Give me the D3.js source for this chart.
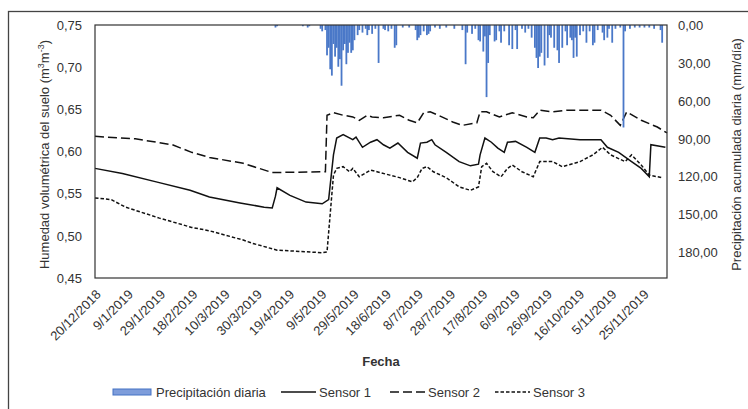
<!DOCTYPE html>
<html>
<head>
<meta charset="utf-8">
<script src="https://cdn.jsdelivr.net/npm/d3@7"></script>
<style>
  body { margin: 0; background: #fff; }
  svg { font-family: "Liberation Sans", Arial, sans-serif; }
  .tick text { fill: #333; font-size: 13px; }
</style>
</head>
<body>
<svg id="vis" width="748" height="409"></svg>
<script>
const width = 748;
const height = 409;
const margin = { top: 25, right: 81, bottom: 131, left: 95 };

// x axis tick labels (every 20 days)
const dateTicks = ["2018-12-20", "2019-01-09", "2019-01-29", "2019-02-18", "2019-03-10",
  "2019-03-30", "2019-04-19", "2019-05-09", "2019-05-29", "2019-06-18", "2019-07-08",
  "2019-07-28", "2019-08-17", "2019-09-06", "2019-09-26", "2019-10-16", "2019-11-05",
  "2019-11-25"];
const leftTicks = [0.45, 0.50, 0.55, 0.60, 0.65, 0.70, 0.75];
const rightTicks = [0, 30, 60, 90, 120, 150, 180];

// soil moisture (m3/m3)
const sensor1 = [
  ["2018-12-20", 0.580], ["2019-01-06", 0.574], ["2019-01-27", 0.564], ["2019-02-17", 0.554],
  ["2019-03-01", 0.546], ["2019-03-20", 0.539], ["2019-04-04", 0.534], ["2019-04-09", 0.533],
  ["2019-04-11", 0.547], ["2019-04-12", 0.557], ["2019-04-20", 0.548], ["2019-04-30", 0.540],
  ["2019-05-10", 0.538], ["2019-05-14", 0.543], ["2019-05-17", 0.596], ["2019-05-19", 0.616],
  ["2019-05-23", 0.620], ["2019-05-29", 0.614], ["2019-05-31", 0.617], ["2019-06-04", 0.605],
  ["2019-06-09", 0.611], ["2019-06-13", 0.614], ["2019-06-17", 0.608], ["2019-06-21", 0.604],
  ["2019-06-26", 0.610], ["2019-07-02", 0.599], ["2019-07-08", 0.592], ["2019-07-10", 0.610],
  ["2019-07-14", 0.611], ["2019-07-17", 0.614], ["2019-07-19", 0.608], ["2019-07-26", 0.599],
  ["2019-08-03", 0.588], ["2019-08-10", 0.583], ["2019-08-15", 0.585], ["2019-08-16", 0.596],
  ["2019-08-19", 0.616], ["2019-08-23", 0.611], ["2019-08-27", 0.604], ["2019-08-31", 0.599],
  ["2019-09-02", 0.611], ["2019-09-07", 0.612], ["2019-09-14", 0.605], ["2019-09-19", 0.599],
  ["2019-09-22", 0.616], ["2019-09-26", 0.616], ["2019-09-30", 0.614], ["2019-10-04", 0.616],
  ["2019-10-17", 0.614], ["2019-10-30", 0.614], ["2019-11-03", 0.605], ["2019-11-10", 0.599],
  ["2019-11-18", 0.588], ["2019-11-24", 0.580], ["2019-11-29", 0.570], ["2019-11-30", 0.608],
  ["2019-12-09", 0.605]
];
const sensor2 = [
  ["2018-12-20", 0.618], ["2019-01-14", 0.615], ["2019-02-06", 0.608], ["2019-02-18", 0.599],
  ["2019-03-01", 0.593], ["2019-03-22", 0.586], ["2019-04-09", 0.575], ["2019-05-10", 0.576],
  ["2019-05-12", 0.576], ["2019-05-13", 0.643], ["2019-05-17", 0.646], ["2019-05-23", 0.643],
  ["2019-05-29", 0.641], ["2019-06-02", 0.637], ["2019-06-07", 0.643], ["2019-06-10", 0.641],
  ["2019-06-17", 0.640], ["2019-06-27", 0.643], ["2019-07-03", 0.637], ["2019-07-08", 0.634],
  ["2019-07-12", 0.646], ["2019-07-16", 0.647], ["2019-07-21", 0.643], ["2019-07-30", 0.635],
  ["2019-08-05", 0.631], ["2019-08-14", 0.634], ["2019-08-16", 0.647], ["2019-08-20", 0.647],
  ["2019-08-28", 0.641], ["2019-09-05", 0.646], ["2019-09-14", 0.641], ["2019-09-18", 0.640],
  ["2019-09-22", 0.649], ["2019-09-30", 0.647], ["2019-10-09", 0.649], ["2019-10-30", 0.649],
  ["2019-11-05", 0.643], ["2019-11-11", 0.631], ["2019-11-15", 0.647], ["2019-11-24", 0.637],
  ["2019-12-04", 0.629], ["2019-12-10", 0.622]
];
const sensor3 = [
  ["2018-12-20", 0.545], ["2018-12-30", 0.543], ["2019-01-08", 0.534], ["2019-01-29", 0.521],
  ["2019-02-18", 0.510], ["2019-03-01", 0.506], ["2019-03-22", 0.495], ["2019-03-28", 0.491],
  ["2019-04-12", 0.483], ["2019-05-10", 0.480], ["2019-05-13", 0.481], ["2019-05-17", 0.572],
  ["2019-05-19", 0.580], ["2019-05-23", 0.582], ["2019-05-27", 0.576], ["2019-05-29", 0.580],
  ["2019-06-02", 0.570], ["2019-06-09", 0.578], ["2019-06-13", 0.576], ["2019-06-21", 0.572],
  ["2019-06-27", 0.569], ["2019-07-05", 0.564], ["2019-07-08", 0.569], ["2019-07-11", 0.580],
  ["2019-07-14", 0.582], ["2019-07-18", 0.576], ["2019-07-26", 0.569], ["2019-08-03", 0.558],
  ["2019-08-10", 0.554], ["2019-08-15", 0.558], ["2019-08-17", 0.582], ["2019-08-20", 0.586],
  ["2019-08-24", 0.576], ["2019-08-29", 0.570], ["2019-09-02", 0.580], ["2019-09-05", 0.584],
  ["2019-09-11", 0.576], ["2019-09-18", 0.570], ["2019-09-22", 0.588], ["2019-09-30", 0.588],
  ["2019-10-06", 0.582], ["2019-10-17", 0.588], ["2019-10-25", 0.596], ["2019-10-31", 0.605],
  ["2019-11-05", 0.596], ["2019-11-14", 0.588], ["2019-11-18", 0.596], ["2019-11-24", 0.584],
  ["2019-11-29", 0.572], ["2019-12-07", 0.569]
];

// daily rainfall (mm/dia), only rainy days listed
const rain = [
  ["2019-04-11", 2], ["2019-04-12", 1], ["2019-04-28", 1], ["2019-05-01", 2], ["2019-05-02", 1],
  ["2019-05-09", 3], ["2019-05-10", 5], ["2019-05-12", 4], ["2019-05-13", 24], ["2019-05-14", 18],
  ["2019-05-15", 35], ["2019-05-16", 40], ["2019-05-17", 15], ["2019-05-18", 25], ["2019-05-19", 18],
  ["2019-05-20", 33], ["2019-05-21", 27], ["2019-05-22", 48], ["2019-05-23", 20], ["2019-05-24", 15],
  ["2019-05-25", 31], ["2019-05-26", 22], ["2019-05-27", 14], ["2019-05-28", 22], ["2019-05-29", 20],
  ["2019-05-30", 12], ["2019-06-01", 8], ["2019-06-02", 4], ["2019-06-04", 6], ["2019-06-06", 3],
  ["2019-06-07", 8], ["2019-06-08", 4], ["2019-06-10", 7], ["2019-06-12", 3], ["2019-06-14", 30],
  ["2019-06-17", 3], ["2019-06-18", 4], ["2019-06-20", 5], ["2019-06-22", 3], ["2019-06-24", 18],
  ["2019-06-25", 16], ["2019-06-29", 2], ["2019-07-03", 2], ["2019-07-07", 4], ["2019-07-08", 12],
  ["2019-07-09", 10], ["2019-07-10", 8], ["2019-07-12", 5], ["2019-07-14", 8], ["2019-07-15", 7],
  ["2019-07-16", 5], ["2019-07-19", 2], ["2019-07-22", 3], ["2019-07-26", 2], ["2019-07-31", 3],
  ["2019-08-05", 4], ["2019-08-07", 31], ["2019-08-08", 6], ["2019-08-11", 7], ["2019-08-13", 3],
  ["2019-08-15", 12], ["2019-08-16", 13], ["2019-08-18", 21], ["2019-08-19", 9], ["2019-08-20", 57],
  ["2019-08-21", 30], ["2019-08-22", 8], ["2019-08-25", 13], ["2019-08-26", 12], ["2019-08-28", 5],
  ["2019-08-29", 14], ["2019-08-31", 5], ["2019-09-03", 16], ["2019-09-05", 19], ["2019-09-07", 4],
  ["2019-09-08", 19], ["2019-09-11", 3], ["2019-09-13", 6], ["2019-09-15", 3], ["2019-09-17", 10],
  ["2019-09-19", 18], ["2019-09-20", 26], ["2019-09-21", 34], ["2019-09-22", 25], ["2019-09-23", 22],
  ["2019-09-25", 32], ["2019-09-27", 26], ["2019-09-28", 8], ["2019-09-29", 10], ["2019-10-01", 18],
  ["2019-10-03", 20], ["2019-10-04", 30], ["2019-10-06", 18], ["2019-10-08", 5], ["2019-10-09", 16],
  ["2019-10-11", 10], ["2019-10-12", 12], ["2019-10-13", 26], ["2019-10-14", 10], ["2019-10-15", 25],
  ["2019-10-17", 8], ["2019-10-19", 5], ["2019-10-21", 14], ["2019-10-23", 5], ["2019-10-25", 16],
  ["2019-10-26", 14], ["2019-10-28", 4], ["2019-10-31", 6], ["2019-11-01", 12], ["2019-11-03", 10],
  ["2019-11-04", 3], ["2019-11-06", 14], ["2019-11-08", 3], ["2019-11-11", 2], ["2019-11-13", 81],
  ["2019-11-14", 5], ["2019-11-17", 3], ["2019-11-20", 2], ["2019-11-23", 2], ["2019-11-26", 2],
  ["2019-11-29", 2], ["2019-12-02", 3], ["2019-12-06", 4], ["2019-12-07", 14]
];

const parse = d3.timeParse("%Y-%m-%d");
const es = d3.formatLocale({ decimal: ",", thousands: ".", grouping: [3], currency: ["", ""] });
const tickFmt = d3.timeFormat("%-d/%-m/%Y");

const svg = d3.select("svg#vis");

// outer frame of the figure
svg.append("rect")
  .attr("x", 8.5).attr("y", 11.5)
  .attr("width", width + 20).attr("height", height + 20)
  .attr("fill", "none").attr("stroke", "#444").attr("stroke-width", 1.3);

const x = d3.scaleTime()
  .domain([parse("2018-12-20"), parse("2019-12-10")])
  .range([margin.left, width - margin.right]);
const y = d3.scaleLinear()
  .domain([0.45, 0.75])
  .range([height - margin.bottom, margin.top]);
const yR = d3.scaleLinear()
  .domain([0, 200])
  .range([margin.top, height - margin.bottom]);

// left axis
svg.append("g")
  .attr("transform", "translate(" + margin.left + ",0)")
  .call(d3.axisLeft(y).tickValues(leftTicks).tickSize(0).tickPadding(13).tickFormat(es.format(".2f")))
  .call(g => g.select(".domain").remove());

// right axis
svg.append("g")
  .attr("transform", "translate(" + (width - margin.right) + ",0)")
  .call(d3.axisRight(yR).tickValues(rightTicks).tickSize(0).tickPadding(11).tickFormat(es.format(".2f")))
  .call(g => g.select(".domain").remove());

// bottom axis with slanted dates
svg.append("g")
  .attr("transform", "translate(0," + (height - margin.bottom) + ")")
  .call(d3.axisBottom(x).tickValues(dateTicks.map(parse)).tickSize(0).tickFormat(tickFmt))
  .call(g => g.select(".domain").remove())
  .selectAll("text")
  .attr("text-anchor", "end")
  .attr("x", 0).attr("y", 0).attr("dy", "0.35em")
  .attr("transform", "translate(3,14) rotate(-45)");

// soil moisture lines
const line = d3.line()
  .x(d => x(parse(d[0])))
  .y(d => y(d[1]));

const series = [
  { data: sensor1, dash: null },
  { data: sensor2, dash: "9,4" },
  { data: sensor3, dash: "3.5,2" }
];

svg.append("g").selectAll("path")
  .data(series)
  .enter()
  .append("path")
  .attr("d", d => line(d.data))
  .attr("fill", "none")
  .attr("stroke", "#111")
  .attr("stroke-width", 1.5)
  .attr("stroke-dasharray", d => d.dash);

// rainfall bars hanging from the top (secondary axis)
svg.append("g").selectAll("rect")
  .data(rain)
  .enter()
  .append("rect")
  .attr("x", d => x(parse(d[0])) - 0.9)
  .attr("y", yR(0))
  .attr("width", 1.8)
  .attr("height", d => yR(d[1]) - yR(0))
  .attr("fill", "#4a78c8");

// plot area border
svg.append("rect")
  .attr("x", margin.left).attr("y", margin.top)
  .attr("width", width - margin.left - margin.right)
  .attr("height", height - margin.top - margin.bottom)
  .attr("fill", "none").attr("stroke", "#333").attr("stroke-width", 1.2);

// axis titles
const leftTitle = svg.append("text")
  .attr("transform", "translate(49," + ((margin.top + height - margin.bottom) / 2 + 3) + ") rotate(-90)")
  .attr("text-anchor", "middle")
  .attr("font-size", 13)
  .attr("fill", "#333");
leftTitle.append("tspan").text("Humedad volumétrica del suelo (m");
leftTitle.append("tspan").attr("font-size", 9).attr("dy", -5).text("3");
leftTitle.append("tspan").attr("dy", 5).text("m");
leftTitle.append("tspan").attr("font-size", 9).attr("dy", -5).text("-3");
leftTitle.append("tspan").attr("dy", 5).text(")");

svg.append("text")
  .attr("transform", "translate(741," + ((margin.top + height - margin.bottom) / 2 + 3) + ") rotate(-90)")
  .attr("text-anchor", "middle")
  .attr("font-size", 13)
  .attr("fill", "#333")
  .text("Precipitación acumulada diaria (mm/día)");

svg.append("text")
  .attr("x", (margin.left + width - margin.right) / 2)
  .attr("y", 366)
  .attr("text-anchor", "middle")
  .attr("font-size", 13)
  .attr("font-weight", "bold")
  .attr("fill", "#333")
  .text("Fecha");

// legend
const legendY = 392;
const legend = [
  { label: "Precipitación diaria", x: 113, type: "bar" },
  { label: "Sensor 1", x: 281, type: "line", dash: null },
  { label: "Sensor 2", x: 390, type: "line", dash: "9,4" },
  { label: "Sensor 3", x: 495, type: "line", dash: "3.5,2" }
];
const lg = svg.append("g").selectAll("g")
  .data(legend)
  .enter()
  .append("g")
  .attr("transform", d => "translate(" + d.x + "," + legendY + ")");

lg.filter(d => d.type === "bar").append("rect")
  .attr("x", 0).attr("y", -3).attr("width", 38).attr("height", 6)
  .attr("fill", "#7e9ddb").attr("stroke", "#4472c4").attr("stroke-width", 1);

lg.filter(d => d.type === "line").append("line")
  .attr("x1", 0).attr("x2", 35).attr("y1", 0).attr("y2", 0)
  .attr("stroke", "#111").attr("stroke-width", 1.6)
  .attr("stroke-dasharray", d => d.dash);

lg.append("text")
  .attr("x", d => d.type === "bar" ? 43 : 38)
  .attr("y", 0).attr("dy", "0.35em")
  .attr("font-size", 13)
  .attr("fill", "#333")
  .text(d => d.label);
</script>
</body>
</html>
